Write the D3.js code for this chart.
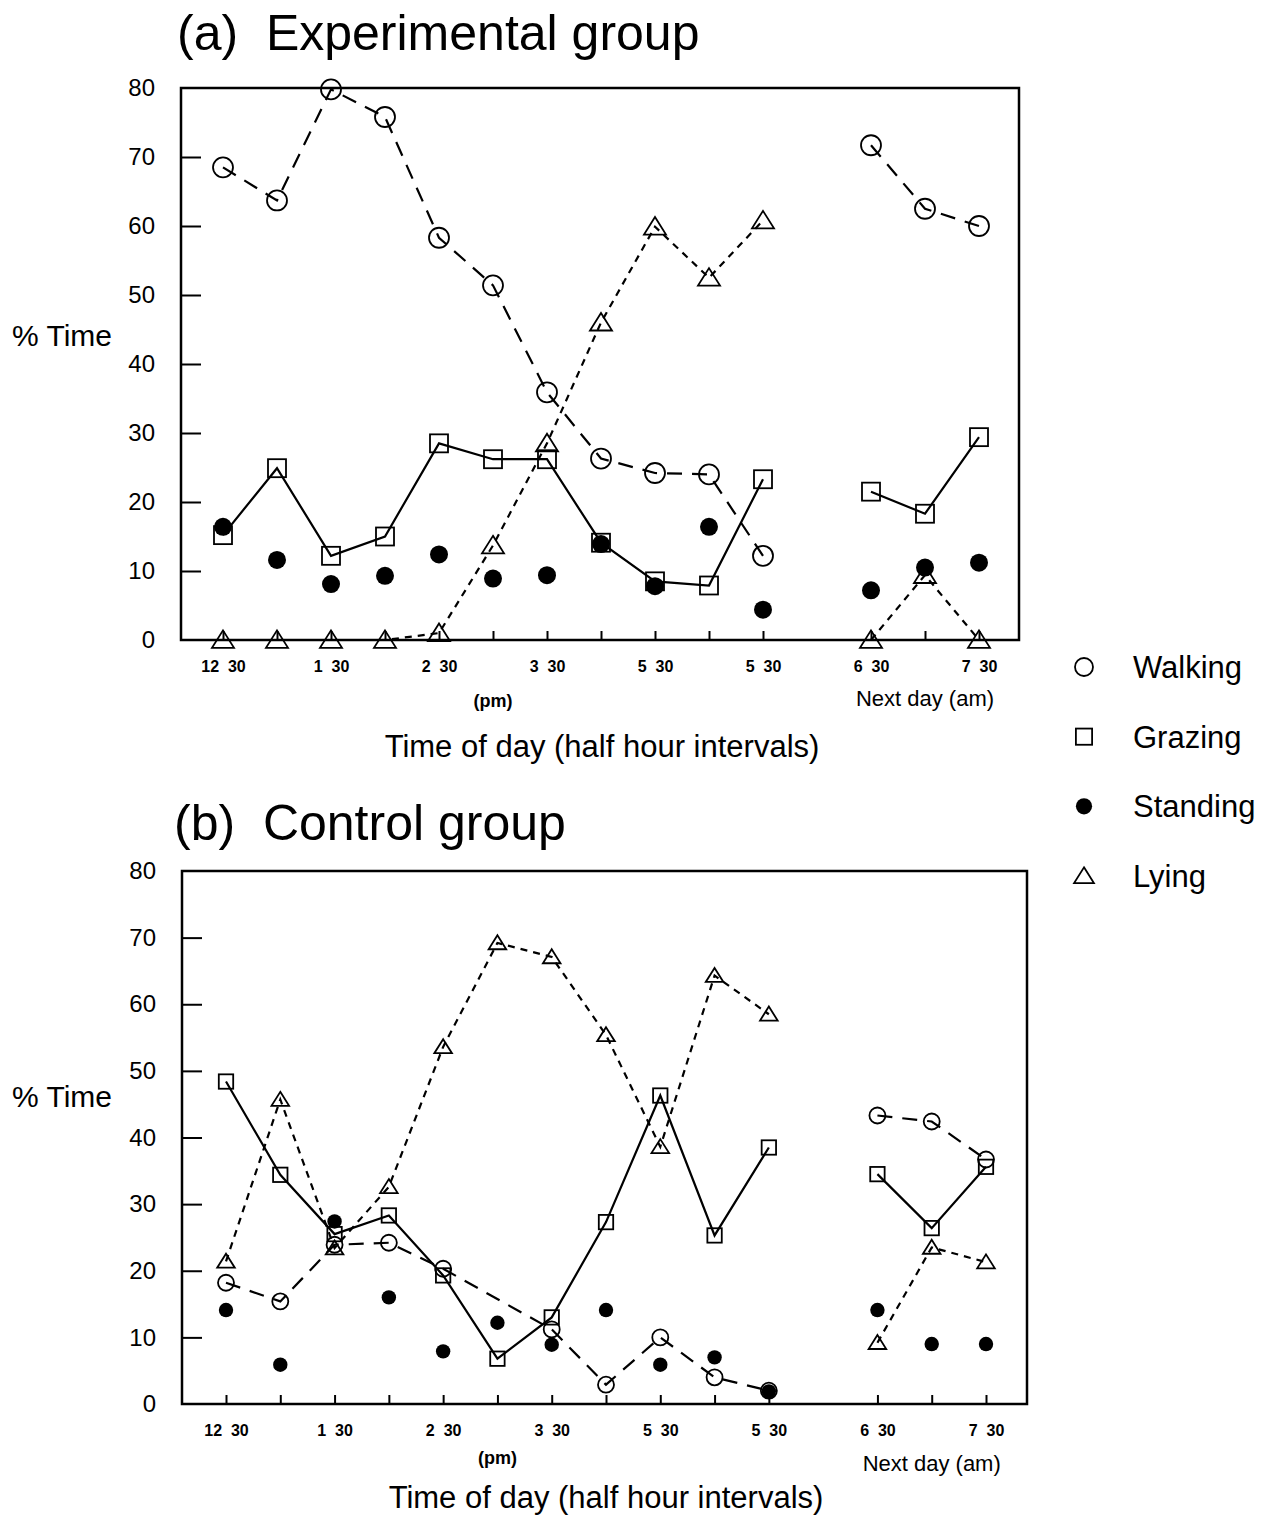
<!DOCTYPE html>
<html>
<head>
<meta charset="utf-8">
<script src="https://cdn.jsdelivr.net/npm/d3@7"></script>
<style>
  body { margin: 0; background: #fff; }
  svg text { font-family: "Liberation Sans", Arial, Helvetica, sans-serif; fill: #000; white-space: pre; }
</style>
</head>
<body>
<svg id="chart" width="1276" height="1515"></svg>
<script>
// half hour slots, index 11 is the overnight gap
var slots = d3.range(15)
var gapIndex = 11
var xTickLabels = ["12  30", "", "1  30", "", "2  30", "", "3  30", "", "5  30", "", "5  30", "", "6  30", "", "7  30"]
var yTicks = [0, 10, 20, 30, 40, 50, 60, 70, 80]

// (a) experimental group
var expWalking  = [68.5, 63.7, 79.8, 75.8, 58.3, 51.4, 35.9, 26.3, 24.2, 24.0, 12.2, null, 71.7, 62.5, 60.0]
var expGrazing  = [15.2, 24.9, 12.2, 15.0, 28.5, 26.2, 26.2, 14.1, 8.5, 7.9, 23.3, null, 21.5, 18.3, 29.4]
var expStanding = [16.4, 11.6, 8.1, 9.3, 12.4, 8.9, 9.4, 13.9, 7.8, 16.4, 4.4, null, 7.2, 10.5, 11.2]
var expLying    = [0, 0, 0, 0, 1.0, 13.7, 28.5, 46.0, 59.9, 52.5, 60.8, null, 0, 9.4, 0]

// (b) control group
var ctrlWalking  = [18.2, 15.4, 23.9, 24.2, 20.3, null, 11.2, 2.9, 10.0, 4.0, 2.0, null, 43.3, 42.4, 36.7]
var ctrlGrazing  = [48.4, 34.4, 25.5, 28.3, 19.3, 6.8, 13.0, 27.3, 46.3, 25.3, 38.5, null, 34.5, 26.4, 35.6]
var ctrlStanding = [14.1, 5.9, 27.4, 16.0, 7.9, 12.2, 8.9, 14.1, 5.9, 7.0, 1.9, null, 14.1, 9.0, 9.0]
var ctrlLying    = [21.4, 45.7, 23.4, 32.6, 53.6, 69.2, 67.1, 55.4, 38.6, 64.3, 58.5, null, 9.2, 23.5, 21.3]

var legendLabels = ["Walking", "Grazing", "Standing", "Lying"]

var svg = d3.select("#chart")

// marker + line style per behaviour
var styles = {
  Walking:  { shape: "circle",   dash: "15,10" },
  Grazing:  { shape: "square",   dash: null },
  Standing: { shape: "dot",      dash: "none" },
  Lying:    { shape: "triangle", dash: "7,6" }
}

function drawMarker(g, shape, x, y, r) {
  if (shape == "circle") {
    g.append("circle").attr("cx", x).attr("cy", y).attr("r", r)
      .attr("fill", "none").attr("stroke", "#000").attr("stroke-width", 1.8)
  } else if (shape == "dot") {
    g.append("circle").attr("cx", x).attr("cy", y).attr("r", r * 0.9)
      .attr("fill", "#000")
  } else if (shape == "square") {
    var s = r * 0.9
    g.append("rect").attr("x", x - s).attr("y", y - s).attr("width", 2 * s).attr("height", 2 * s)
      .attr("fill", "none").attr("stroke", "#000").attr("stroke-width", 1.8)
  } else {
    var h = r * 1.75, w = r * 1.1
    g.append("path")
      .attr("d", "M" + x + "," + (y - h * 0.55) + "L" + (x + w) + "," + (y + h * 0.45) + "L" + (x - w) + "," + (y + h * 0.45) + "Z")
      .attr("fill", "none").attr("stroke", "#000").attr("stroke-width", 1.8)
  }
}

function drawPanel(p) {
  var g = svg.append("g")
  var x = d3.scaleLinear().domain([0, 14]).range([p.x0, p.x14])
  var y = d3.scaleLinear().domain([0, 80]).range([p.bottom, p.top])

  // title
  g.append("text").attr("x", p.titleX).attr("y", p.titleY)
    .style("font-size", "50px").text(p.title)

  // y axis, ticks pointing inward
  var yAxis = d3.axisLeft(y).tickValues(yTicks).tickSize(-20).tickPadding(26)
  var ya = g.append("g").attr("transform", "translate(" + p.left + ",0)").call(yAxis)
  ya.select(".domain").remove()
  ya.selectAll("line").attr("stroke-width", 2)
  ya.selectAll("text").style("font-size", "24px").style("font-family", "Liberation Sans, Arial, sans-serif")
  ya.selectAll(".tick").filter(function(d) { return d == 0 || d == 80 }).select("line").remove()

  // x axis ticks inward
  var xa = g.append("g").attr("transform", "translate(0," + p.bottom + ")")
    .call(d3.axisBottom(x).tickValues(slots.filter(function(d) { return d != gapIndex }))
      .tickSize(-9).tickPadding(21).tickFormat(function(d) { return xTickLabels[d] }))
  xa.select(".domain").remove()
  xa.selectAll("line").attr("stroke-width", 2)
  xa.selectAll("text").style("font-size", "16px").style("font-weight", "bold")
    .style("font-family", "Liberation Sans, Arial, sans-serif")

  // frame
  g.append("rect").attr("x", p.left).attr("y", p.top)
    .attr("width", p.right - p.left).attr("height", p.bottom - p.top)
    .attr("fill", "none").attr("stroke", "#000").attr("stroke-width", 2.5)

  g.append("text").attr("x", 12).attr("y", p.pctY).style("font-size", "30px").text("% Time")
  g.append("text").attr("x", x(5)).attr("y", p.bottom + p.pmDy).attr("text-anchor", "middle")
    .style("font-size", "18px").style("font-weight", "bold").text("(pm)")
  g.append("text").attr("x", x(13)).attr("y", p.bottom + p.nextDy).attr("text-anchor", "middle")
    .style("font-size", "22px").text("Next day (am)")
  g.append("text").attr("x", p.axisTitleX).attr("y", p.bottom + p.axisTitleDy).attr("text-anchor", "middle")
    .style("font-size", "31px").text("Time of day (half hour intervals)")

  var line = d3.line().x(function(d) { return x(d.i) }).y(function(d) { return y(d.v) })

  p.series.forEach(function(s) {
    var st = styles[s.name]
    var pts = s.values.map(function(v, i) { return { i: i, v: v } }).filter(function(d) { return d.v != null })
    if (st.dash != "none") {
      var parts = [pts.filter(function(d) { return d.i < gapIndex }), pts.filter(function(d) { return d.i > gapIndex })]
      parts.forEach(function(part) {
        g.append("path").datum(part).attr("d", line)
          .attr("fill", "none").attr("stroke", "#000").attr("stroke-width", 2.2)
          .attr("stroke-dasharray", st.dash)
      })
    }
    pts.forEach(function(d) { drawMarker(g, st.shape, x(d.i), y(d.v), p.r) })
  })
}

drawPanel({
  title: "(a)  Experimental group", titleX: 177, titleY: 50,
  left: 181, right: 1019, top: 88, bottom: 640, x0: 223, x14: 979, r: 10,
  pctY: 346, pmDy: 67, nextDy: 66, axisTitleX: 602, axisTitleDy: 117,
  series: [
    { name: "Walking", values: expWalking },
    { name: "Grazing", values: expGrazing },
    { name: "Standing", values: expStanding },
    { name: "Lying", values: expLying }
  ]
})

drawPanel({
  title: "(b)  Control group", titleX: 174, titleY: 840,
  left: 182, right: 1027, top: 871, bottom: 1404, x0: 226, x14: 986, r: 8,
  pctY: 1107, pmDy: 60, nextDy: 67, axisTitleX: 606, axisTitleDy: 104,
  series: [
    { name: "Walking", values: ctrlWalking },
    { name: "Grazing", values: ctrlGrazing },
    { name: "Standing", values: ctrlStanding },
    { name: "Lying", values: ctrlLying }
  ]
})

// legend
var legendY = d3.scalePoint().domain(legendLabels).range([667, 876])
var lg = svg.append("g")
legendLabels.forEach(function(name) {
  drawMarker(lg, styles[name].shape, 1084, legendY(name), 9)
  lg.append("text").attr("x", 1133).attr("y", legendY(name) + 11)
    .style("font-size", "31px").text(name)
})
</script>
</body>
</html>
